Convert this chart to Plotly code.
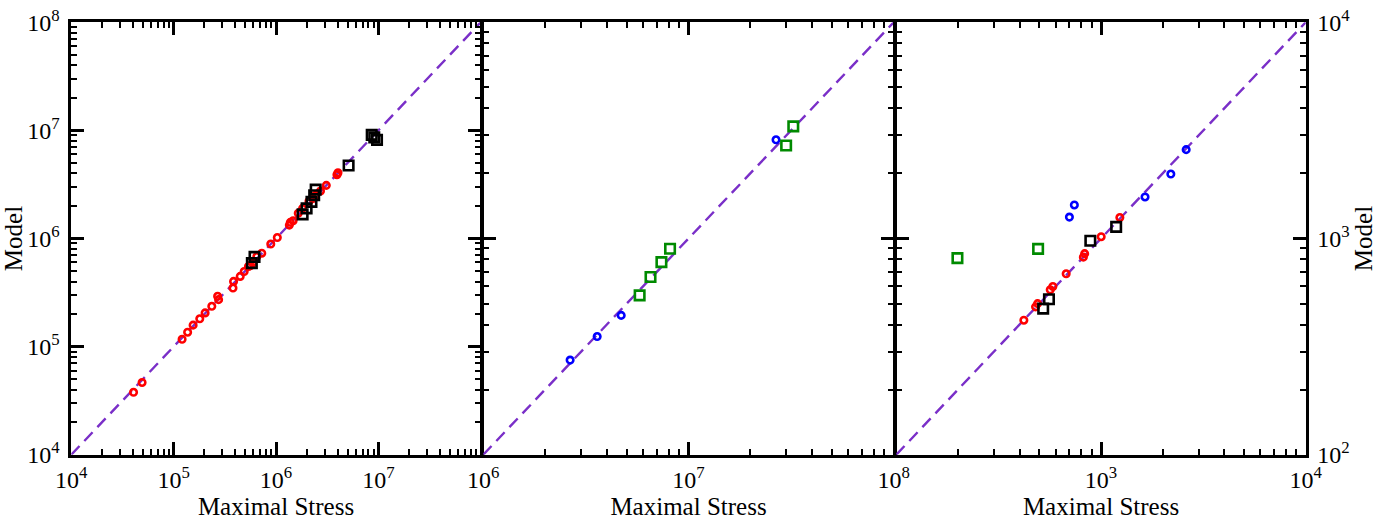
import plotly.graph_objects as go
import math

# ---------------- data ----------------
p1_range = [1e4, 1e8]
p2_range = [1e6, 1e8]
p3_range = [1e2, 1e4]

p1_red_x = [4.06e4, 4.92e4, 1.21e5, 1.37e5, 1.55e5, 1.80e5, 2.03e5, 2.36e5, 2.75e5, 2.69e5,
            3.80e5, 3.85e5, 4.47e5, 4.89e5, 5.38e5, 5.60e5, 5.89e5, 6.50e5, 7.26e5, 8.89e5,
            1.03e6, 1.35e6, 1.38e6, 1.47e6, 1.65e6, 1.82e6, 2.10e6, 2.29e6, 2.44e6, 2.72e6,
            3.10e6, 3.94e6, 4.03e6]
p1_red_y = [3.78e4, 4.66e4, 1.17e5, 1.36e5, 1.58e5, 1.81e5, 2.05e5, 2.36e5, 2.72e5, 2.92e5,
            3.48e5, 4.01e5, 4.46e5, 4.95e5, 5.51e5, 5.60e5, 5.92e5, 6.81e5, 7.31e5, 8.89e5,
            1.02e6, 1.33e6, 1.41e6, 1.46e6, 1.71e6, 1.90e6, 2.21e6, 2.34e6, 2.51e6, 2.75e6,
            3.10e6, 3.89e6, 4.06e6]
p1_black_x = [5.81e5, 6.17e5, 1.82e6, 1.99e6, 2.22e6, 2.36e6, 2.44e6, 5.12e6, 8.61e6, 9.12e6, 9.70e6]
p1_black_y = [5.92e5, 6.76e5, 1.67e6, 1.90e6, 2.18e6, 2.51e6, 2.83e6, 4.74e6, 9.08e6, 8.61e6, 8.17e6]

p2_blue_x = [2.65e6, 3.59e6, 4.70e6, 2.67e7]
p2_blue_y = [2.74e6, 3.52e6, 4.41e6, 2.86e7]
p2_green_x = [5.78e6, 6.53e6, 7.38e6, 8.13e6, 2.99e7, 3.24e7]
p2_green_y = [5.46e6, 6.64e6, 7.78e6, 8.97e6, 2.69e7, 3.30e7]

p3_green_x = [199, 493]
p3_green_y = [811, 895]
p3_blue_x = [701, 741, 1641, 2193, 2606]
p3_blue_y = [1256, 1429, 1556, 1986, 2576]
p3_black_x = [522, 557, 887, 1186]
p3_black_y = [474, 524, 977, 1132]
p3_red_x = [420, 479, 490, 565, 582, 676, 820, 832, 1002, 1236]
p3_red_y = [419, 483, 500, 579, 600, 687, 820, 851, 1019, 1250]

x_title = "Maximal Stress"
y_title = "Model"

# ---------------- styles ----------------
FONT = "Liberation Serif"
RED = "#ff0000"
BLACK = "#000000"
BLUE = "#0000ff"
GREEN = "#008a00"
PURPLE = "#7a2fc8"

W, H = 1387, 522
LW = 2.5
# frame line centres in pixels; domains are inset by half the line width so the
# shared borders between neighbouring panels coincide
frame_x = [(70, 482), (482, 895), (895, 1307)]
frame_y = (21, 456)


def circ(x, y, color, xa, ya):
    return go.Scatter(x=x, y=y, mode="markers", xaxis=xa, yaxis=ya, showlegend=False,
                      marker=dict(symbol="circle-open", size=6.5, color=color,
                                  line=dict(width=2.6, color=color)))


def sq(x, y, color, xa, ya):
    return go.Scatter(x=x, y=y, mode="markers", xaxis=xa, yaxis=ya, showlegend=False,
                      marker=dict(symbol="square-open", size=9.5, color=color,
                                  line=dict(width=2.6, color=color)))


def diag(rng, xa, ya):
    return go.Scatter(x=rng, y=rng, mode="lines", xaxis=xa, yaxis=ya, showlegend=False,
                      line=dict(color=PURPLE, width=2.4, dash="12px,7px"))


fig = go.Figure()
fig.add_trace(diag(p1_range, "x", "y"))
fig.add_trace(circ(p1_red_x, p1_red_y, RED, "x", "y"))
fig.add_trace(sq(p1_black_x, p1_black_y, BLACK, "x", "y"))

fig.add_trace(diag(p2_range, "x2", "y2"))
fig.add_trace(circ(p2_blue_x, p2_blue_y, BLUE, "x2", "y2"))
fig.add_trace(sq(p2_green_x, p2_green_y, GREEN, "x2", "y2"))

fig.add_trace(diag(p3_range, "x3", "y3"))
fig.add_trace(sq(p3_green_x, p3_green_y, GREEN, "x3", "y3"))
fig.add_trace(circ(p3_red_x, p3_red_y, RED, "x3", "y3"))
fig.add_trace(sq(p3_black_x, p3_black_y, BLACK, "x3", "y3"))
fig.add_trace(circ(p3_blue_x, p3_blue_y, BLUE, "x3", "y3"))


def decades(rng):
    lo, hi = int(round(math.log10(rng[0]))), int(round(math.log10(rng[1])))
    return lo, hi


def axis(rng, domain, anchor, labels_shown, title=None, side=None, standoff=4):
    lo, hi = decades(rng)
    majors = [10.0 ** k for k in range(lo, hi + 1)]
    minors = [m * 10.0 ** k for k in range(lo, hi) for m in range(2, 10)]
    texts = [("10<sup>%d</sup>" % k) if k in labels_shown else " " for k in range(lo, hi + 1)]
    d = dict(type="log", range=[lo, hi], domain=domain, anchor=anchor,
             showgrid=False, zeroline=False, showline=True, linewidth=LW, linecolor="black",
             mirror="allticks", ticks="inside", ticklen=13, tickwidth=2.5, tickcolor="black",
             tickmode="array", tickvals=majors, ticktext=texts,
             tickfont=dict(family=FONT, size=24, color="black"),
             minor=dict(tickmode="array", tickvals=minors, ticks="inside", ticklen=6,
                        tickwidth=2, tickcolor="black", showgrid=False),
             automargin=False, fixedrange=True, ticklabelstandoff=standoff)
    if title:
        d["title"] = dict(text=title, font=dict(family=FONT, size=25, color="black"), standoff=0)
    if side:
        d["side"] = side
    return d


h = LW / 2.0
xd = [[(a + h) / W, (b - h) / W] for a, b in frame_x]
yd = [(H - frame_y[1] + h) / H, (H - frame_y[0] - h) / H]

fig.update_layout(
    width=W, height=H, autosize=False,
    margin=dict(l=0, r=0, t=0, b=0, pad=0),
    plot_bgcolor="white", paper_bgcolor="white",
    showlegend=False,
    font=dict(family=FONT, color="black"),
    xaxis=axis(p1_range, xd[0], "y", [4, 5, 6, 7], x_title, standoff=2),
    yaxis=axis(p1_range, yd, "x", [4, 5, 6, 7, 8], y_title, standoff=4),
    xaxis2=axis(p2_range, xd[1], "y2", [6, 7, 8], x_title, standoff=2),
    yaxis2=axis(p2_range, yd, "x2", []),
    xaxis3=axis(p3_range, xd[2], "y3", [3, 4], x_title, standoff=2),
    yaxis3=axis(p3_range, yd, "x3", [2, 3, 4], y_title, side="right", standoff=4),
)

fig.write_html("out.html", config={"displayModeBar": False},
               post_script="document.body.style.margin='0px';document.body.style.padding='0px';")
